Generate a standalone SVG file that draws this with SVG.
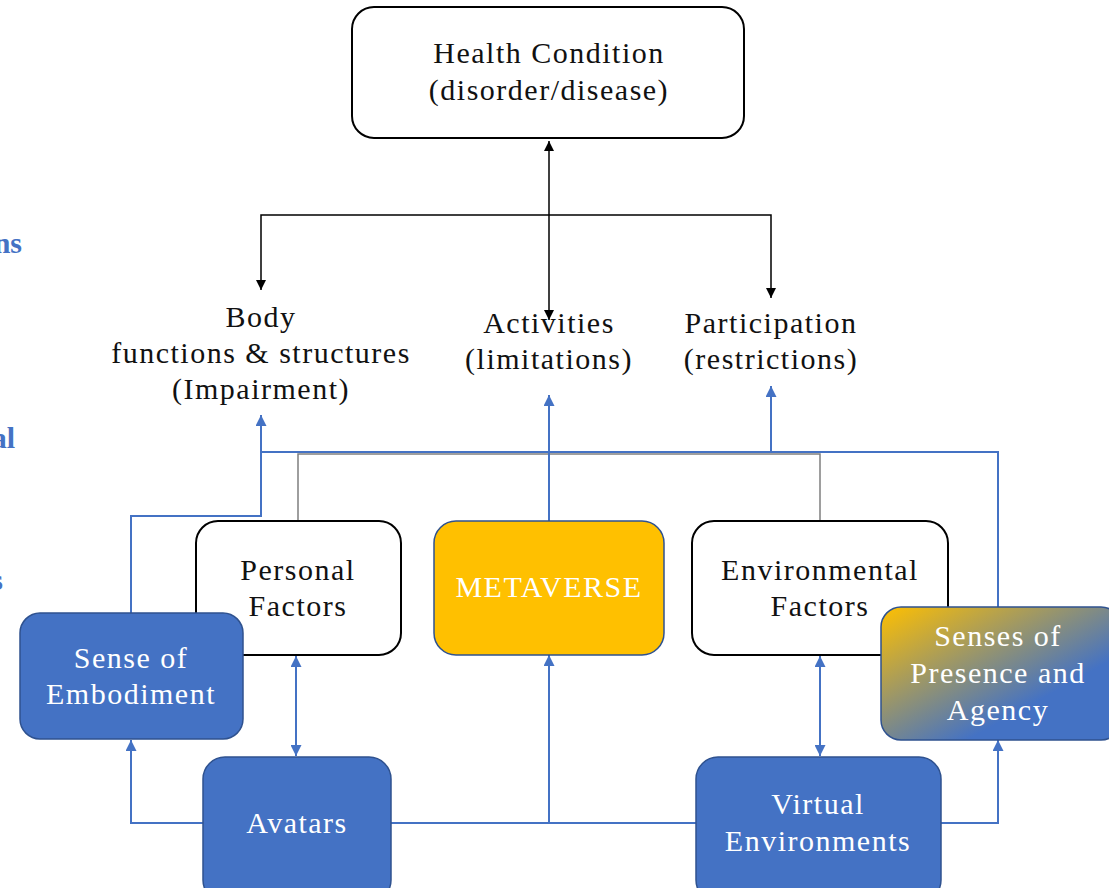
<svg xmlns="http://www.w3.org/2000/svg" width="1109" height="888" viewBox="0 0 1109 888">
<style>
text{font-family:"Liberation Serif","Times New Roman",serif;font-size:30px;letter-spacing:1.5px;text-anchor:middle}
.dk{fill:#111}
.wt{fill:#fff}
.box{fill:#fff;stroke:#000;stroke-width:2}
.bl{fill:#4472C4;stroke:#2F528F;stroke-width:1.5}
.cb{fill:none;stroke:#000;stroke-width:1.5}
.cbl{fill:none;stroke:#4472C4;stroke-width:2}
.cg{fill:none;stroke:#7F7F7F;stroke-width:1.5}
.side{font-weight:bold;fill:#4472C4;text-anchor:end;letter-spacing:0}
</style>
<defs>
<marker id="ak" viewBox="0 0 10 10" refX="10" refY="5" markerWidth="10" markerHeight="10" markerUnits="userSpaceOnUse" orient="auto-start-reverse"><path d="M0,0L10,5L0,10z" fill="#000"/></marker>
<marker id="ab" viewBox="0 0 10 10" refX="10" refY="5" markerWidth="12" markerHeight="11" markerUnits="userSpaceOnUse" orient="auto-start-reverse"><path d="M0,0L10,5L0,10z" fill="#4472C4"/></marker>
<linearGradient id="gr" x1="0" y1="0" x2="1" y2="1">
<stop offset="0" stop-color="#FFC000"/>
<stop offset="0.68" stop-color="#4472C4"/>
<stop offset="1" stop-color="#4472C4"/>
</linearGradient>
</defs>

<g id="side-text">
<text class="side" x="22" y="253">ns</text>
<text class="side" x="15" y="448">al</text>
<text class="side" x="3" y="590">s</text>
</g>

<g id="connectors">
<path class="cb" d="M549,141V320" marker-start="url(#ak)" marker-end="url(#ak)"/>
<path class="cb" d="M261,290V215H771V298" marker-start="url(#ak)" marker-end="url(#ak)"/>
<path class="cg" d="M298,521V454H820V521"/>
<path class="cbl" d="M131,613V516H261V415" marker-end="url(#ab)"/>
<path class="cbl" d="M261,452H998V607"/>
<path class="cbl" d="M549,521V395" marker-end="url(#ab)"/>
<path class="cbl" d="M771,452V386" marker-end="url(#ab)"/>
<path class="cbl" d="M203,823H131V740" marker-end="url(#ab)"/>
<path class="cbl" d="M391,823H696"/>
<path class="cbl" d="M549,823V655" marker-end="url(#ab)"/>
<path class="cbl" d="M941,823H998V740" marker-end="url(#ab)"/>
<path class="cbl" d="M296,656V756" marker-start="url(#ab)" marker-end="url(#ab)"/>
<path class="cbl" d="M820,656V756" marker-start="url(#ab)" marker-end="url(#ab)"/>
</g>

<g id="health-condition">
<rect class="box" x="352" y="7" width="392" height="131" rx="22"/>
<text class="dk" x="549" y="63">Health Condition</text>
<text class="dk" x="549" y="100">(disorder/disease)</text>
</g>

<g id="body-functions">
<text class="dk" x="261" y="327">Body</text>
<text class="dk" x="261" y="363">functions &amp; structures</text>
<text class="dk" x="261" y="399">(Impairment)</text>
</g>

<g id="activities">
<text class="dk" x="549" y="333">Activities</text>
<text class="dk" x="549" y="369">(limitations)</text>
</g>

<g id="participation">
<text class="dk" x="771" y="333">Participation</text>
<text class="dk" x="771" y="369">(restrictions)</text>
</g>

<g id="personal-factors">
<rect class="box" x="196" y="521" width="205" height="134" rx="22"/>
<text class="dk" x="298" y="580">Personal</text>
<text class="dk" x="298" y="616">Factors</text>
</g>

<g id="metaverse">
<rect x="434" y="521" width="230" height="134" rx="22" fill="#FFC000" stroke="#2F528F" stroke-width="1.5"/>
<text class="wt" x="549" y="597">METAVERSE</text>
</g>

<g id="environmental-factors">
<rect class="box" x="692" y="521" width="256" height="134" rx="22"/>
<text class="dk" x="820" y="580">Environmental</text>
<text class="dk" x="820" y="616">Factors</text>
</g>

<g id="sense-of-embodiment">
<rect class="bl" x="20" y="613" width="223" height="126" rx="20"/>
<text class="wt" x="131" y="668">Sense of</text>
<text class="wt" x="131" y="704">Embodiment</text>
</g>

<g id="senses-of-presence">
<rect x="881" y="607" width="240" height="133" rx="20" fill="url(#gr)" stroke="#2F528F" stroke-width="1.5"/>
<text class="wt" x="998" y="646">Senses of</text>
<text class="wt" x="998" y="683">Presence and</text>
<text class="wt" x="998" y="720">Agency</text>
</g>

<g id="avatars">
<rect class="bl" x="203" y="757" width="188" height="145" rx="22"/>
<text class="wt" x="297" y="833">Avatars</text>
</g>

<g id="virtual-environments">
<rect class="bl" x="696" y="757" width="245" height="145" rx="22"/>
<text class="wt" x="818" y="814">Virtual</text>
<text class="wt" x="818" y="851">Environments</text>
</g>
</svg>
